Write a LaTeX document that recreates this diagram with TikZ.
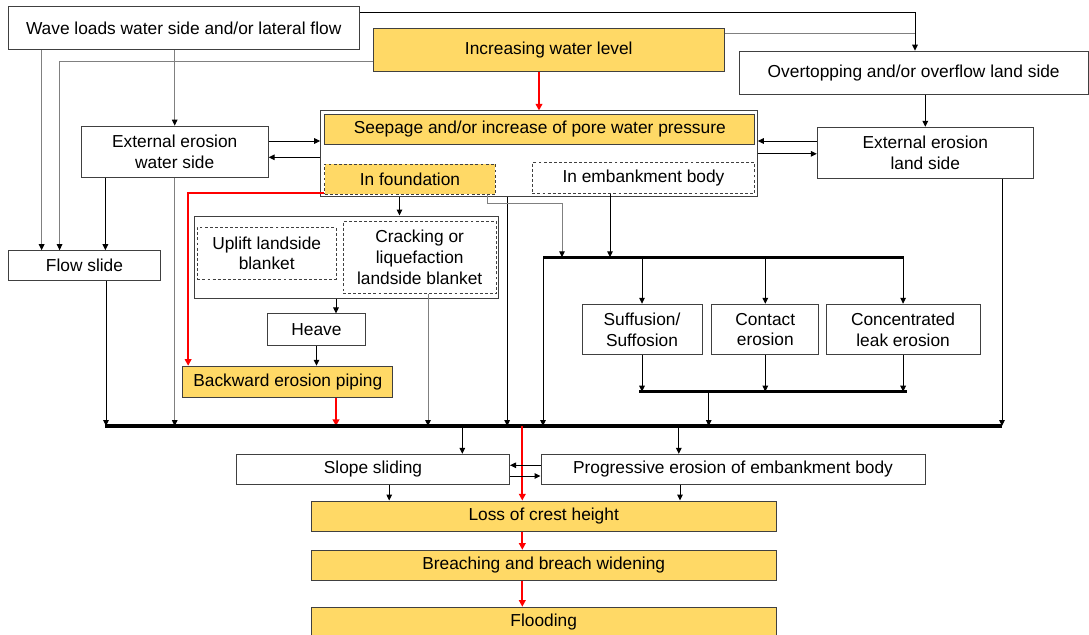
\documentclass[tikz,border=0pt]{standalone}
\usepackage{fontspec}
\setmainfont{Liberation Sans}
\usepackage{tikz}
\usetikzlibrary{arrows.meta, positioning, calc}
\definecolor{gold}{HTML}{FFD966}
\definecolor{edge}{HTML}{404040}
\definecolor{lightline}{HTML}{808080}
\tikzstyle{process} = [rectangle, draw=edge, fill=white, line width=0.75pt, inner sep=0pt, align=center, font=\fontsize{13}{15.5}\selectfont]
\tikzstyle{hazard} = [process, fill=gold]
\tikzstyle{subbox} = [process, dash pattern=on 2.2pt off 1.6pt]
\tikzstyle{group} = [rectangle, draw=edge, fill=white, line width=0.75pt, inner sep=0pt]
\tikzstyle{arrow} = [line width=0.75pt, -{Triangle[length=4.5pt,width=4.2pt]}]
\tikzstyle{greyarrow} = [line width=0.75pt, draw=lightline, -{Triangle[length=4.5pt,width=4.2pt,color=black]}]
\tikzstyle{greyline} = [line width=0.75pt, draw=lightline]
\tikzstyle{redarrow} = [line width=1.6pt, draw=red, -{Triangle[length=5pt,width=5pt]}]
\tikzstyle{bar} = [line width=2.3pt]

\begin{document}
\begin{tikzpicture}[x=0.75pt, y=-0.75pt]
\useasboundingbox (0,0) rectangle (1089,635);

\node (wave) [process, minimum width=263.3pt, minimum height=32.3pt] at (183.7,28.3) {Wave loads water side and/or lateral flow};
\node (rise) [hazard, minimum width=263.3pt, minimum height=32pt] at (548.8,49.7) {Increasing water level};
\node (over) [process, minimum width=261.8pt, minimum height=32.3pt] at (913.7,72.7) {Overtopping and/or overflow land side};
\node (extwater) [process, minimum width=140.3pt, minimum height=38.3pt] at (174.7,151.7) {External erosion\\water side};
\node (extland) [process, minimum width=162pt, minimum height=38.3pt] at (925.3,152.8) {External erosion\\land side};
\node (seepbox) [group, minimum width=327.5pt, minimum height=64.3pt] at (539,153.85) {};
\node (seep) [hazard, minimum width=322.3pt, minimum height=22.3pt] at (539.8,129.2) {Seepage and/or increase of pore water pressure};
\node (found) [subbox, fill=gold, minimum width=128pt, minimum height=22.7pt] at (410,179.2) {In foundation};
\node (embody) [subbox, minimum width=166.7pt, minimum height=23pt] at (643.5,178) {In embankment body};
\node (flowslide) [process, minimum width=114.2pt, minimum height=22.5pt] at (84.5,265.7) {Flow slide};
\node (blanket) [group, minimum width=228.3pt, minimum height=61.5pt] at (346.5,257) {};
\node (uplift) [subbox, minimum width=104pt, minimum height=39pt] at (266.7,253.3) {Uplift landside\\blanket};
\node (crack) [subbox, minimum width=115pt, minimum height=54pt] at (419.7,257.3) {Cracking or\\liquefaction\\landside blanket};
\node (heave) [process, minimum width=72.8pt, minimum height=23.8pt] at (316.5,329.8) {Heave};
\node (bep) [hazard, minimum width=157.3pt, minimum height=23.3pt] at (287.8,381.8) {Backward erosion piping};
\node (suff) [process, minimum width=90pt, minimum height=37.8pt] at (642,329.5) {Suffusion/\\Suffosion};
\node (contact) [process, minimum width=80.3pt, minimum height=37.8pt] at (765.3,329.5) {Contact\\erosion};
\node (leak) [process, minimum width=115.4pt, minimum height=37.8pt] at (903.1,329.5) {Concentrated\\leak erosion};
\node (slope) [process, minimum width=204.8pt, minimum height=22.3pt] at (373,469.2) {Slope sliding};
\node (prog) [process, minimum width=288pt, minimum height=22.3pt] at (733,469.2) {Progressive erosion of embankment body};
\node (loss) [hazard, minimum width=348.8pt, minimum height=22.5pt] at (543.7,516) {Loss of crest height};
\node (breach) [hazard, minimum width=348.8pt, minimum height=22.3pt, below=13.7pt of loss] {Breaching and breach widening};
\node (flood) [hazard, minimum width=348.8pt, minimum height=22pt, below=19.7pt of breach] {Flooding};

\coordinate (barL) at (105,426);
\coordinate (barR) at (1002,426);
\coordinate (ebL) at (543,257.3);
\coordinate (ebR) at (904,257.3);
\coordinate (mbL) at (639,391.7);
\coordinate (mbR) at (907,391.7);

% top row
\draw[greyarrow] ($(wave.south west)+(34,0)$) coordinate (t) -- (t |- flowslide.north);
\draw[greyarrow] ($(rise.west)+(0,12.3)$) -| ($(flowslide.north west)+(51.7,0)$);
\draw[greyarrow] (extwater.north |- wave.south) -- (extwater.north);
\draw[arrow] ($(wave.east)+(0,-16)$) -| ($(over.north)+(1.3,0)$);
\draw[greyline] ($(rise.east)+(0,-16.4)$) coordinate (t) -- ($(t -| over.north)+(1.3,0)$);
\draw[arrow] (over.south -| extland.north) -- (extland.north);
\draw[redarrow] (rise.south -| seepbox.north) -- (seepbox.north);

% external erosion
\draw[arrow] ($(extwater.east)+(0,-10.7)$) coordinate (t) -- (t -| seepbox.west);
\draw[arrow] ($(seepbox.west)+(0,3.45)$) coordinate (t) -- (t -| extwater.east);
\draw[arrow] ($(extland.west)+(0,-11.8)$) coordinate (t) -- (t -| seepbox.east);
\draw[arrow] (seepbox.east) -- (seepbox.east -| extland.west);
\draw[arrow] ($(extwater.south west)+(24.7,0)$) coordinate (t) -- (t |- flowslide.north);
\draw[greyarrow] (extwater.south) -- (extwater.south |- barL);
\draw[arrow] ($(flowslide.south)+(21.5,0)$) coordinate (t) -- (t |- barL);

% foundation
\draw[redarrow] ($(found.south west)+(0,-1.6)$) -| ($(bep.north west)+(5.7,0)$);
\draw[arrow] ($(seepbox.south west)+(79.3,0)$) coordinate (t) -- (t |- blanket.north);
\path ($(heave.north)+(19.5,0)$) coordinate (h);
\draw[arrow] (h |- blanket.south) -- (h);
\draw[arrow] (heave.south) -- (heave.south |- bep.north);
\draw[redarrow] ($(bep.south)+(48.2,0)$) coordinate (t) -- (t |- barL);
\draw[greyarrow] ($(crack.south)+(8.3,0)$) coordinate (t) -- (t |- barL);
\draw[arrow] ($(seepbox.south west)+(187,0)$) coordinate (t) -- (t |- barL);

% embankment body
\draw[greyarrow] ($(found.south east)+(-8.6,0)$) -- ++(0,8.4) -| ($(ebL)+(19,0)$);
\draw[arrow] ($(embody.south)+(-33.5,0)$) coordinate (t) -- (t |- ebL);
\foreach \n in {suff,contact,leak} {
  \draw[arrow] (\n.north |- ebL) -- (\n.north);
  \draw[arrow] (\n.south) -- (\n.south |- mbL);
}
\draw[arrow] (ebL) -- (ebL |- barL);
\draw[arrow] ($(mbL)+(69.7,0)$) coordinate (t) -- (t |- barL);
\draw[arrow] ($(extland.south)+(76.7,0)$) coordinate (t) -- (t |- barL);

\draw[bar] (barL) -- (barR);
\draw[bar] (ebL) -- (ebR);
\draw[bar] (mbL) -- (mbR);

% failure
\path ($(slope.north)+(89.3,0)$) coordinate (s) ($(prog.north)+(-54.2,0)$) coordinate (p) ($(loss.north)+(-21.4,0)$) coordinate (r);
\draw[arrow] (s |- barL) -- (s);
\draw[arrow] (p |- barL) -- (p);
\draw[redarrow] (r |- barL) -- (r);
\draw[arrow] ($(prog.west)+(0,-3.9)$) coordinate (t) -- (t -| slope.east);
\draw[arrow] ($(slope.east)+(0,6.8)$) coordinate (t) -- (t -| prog.west);
\draw[arrow] ($(slope.south)+(16.2,0)$) coordinate (t) -- (t |- loss.north);
\draw[arrow] ($(prog.south)+(-53,0)$) coordinate (t) -- (t |- loss.north);
\draw[redarrow] (r |- loss.south) -- (r |- breach.north);
\draw[redarrow] (r |- breach.south) -- (r |- flood.north);

\end{tikzpicture}
\end{document}
